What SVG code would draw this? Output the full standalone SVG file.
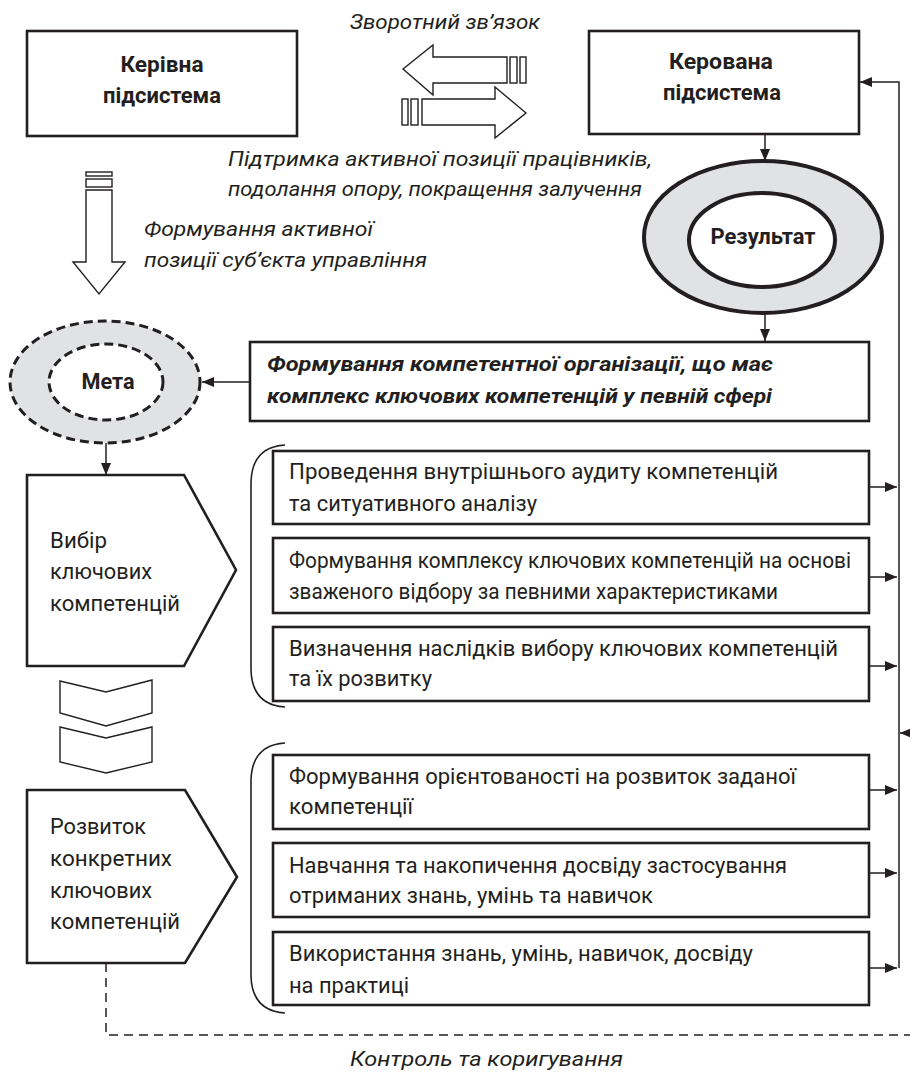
<svg xmlns="http://www.w3.org/2000/svg" width="910" height="1075" viewBox="0 0 910 1075">
<style>
text{font-family:Roboto,"Open Sans","Noto Sans","DejaVu Sans",sans-serif;fill:#231f20}
.b{font-weight:bold;font-size:22px}
.r{font-size:21.5px}
.i{font-style:italic;font-size:21px}
.bi{font-style:italic;font-weight:bold;font-size:21px}
.box{fill:#fff;stroke:#231f20;stroke-width:2.6}
.hol{fill:#fff;stroke:#231f20;stroke-width:1.4}
.ln{fill:none;stroke:#231f20;stroke-width:1.5}
.br{fill:none;stroke:#231f20;stroke-width:1.6}
</style>
<defs>
<marker id="ah" viewBox="0 0 12 10" refX="12" refY="5" markerWidth="12" markerHeight="10" markerUnits="userSpaceOnUse" orient="auto">
<path d="M0,0 L12,5 L0,10 z" fill="#231f20"/>
</marker>
</defs>

<g id="keriv">
<rect class="box" x="27" y="31" width="270" height="105"/>
<text class="b" x="162" y="72" text-anchor="middle" textLength="83" lengthAdjust="spacingAndGlyphs">Керівна</text>
<text class="b" x="162" y="103" text-anchor="middle" textLength="118" lengthAdjust="spacingAndGlyphs">підсистема</text>
</g>

<g id="kerov">
<rect class="box" x="589" y="31" width="270" height="103"/>
<text class="b" x="721" y="69" text-anchor="middle" textLength="104" lengthAdjust="spacingAndGlyphs">Керована</text>
<text class="b" x="722" y="100" text-anchor="middle" textLength="118" lengthAdjust="spacingAndGlyphs">підсистема</text>
</g>

<g id="feedback-arrows">
<path class="hol" d="M403,69 L433,45 L433,57 L507,57 L507,83 L433,83 L433,95 Z"/>
<rect class="hol" x="510" y="57" width="7" height="26"/>
<rect class="hol" x="520" y="57" width="6" height="26"/>
<path class="hol" d="M526,113 L495,87 L495,99 L422,99 L422,125 L495,125 L495,138 Z"/>
<rect class="hol" x="402" y="99" width="6" height="26"/>
<rect class="hol" x="411" y="99" width="7" height="26"/>
<text class="i" x="445" y="29" text-anchor="middle" textLength="190" lengthAdjust="spacingAndGlyphs">Зворотний зв’язок</text>
<text class="i" x="228" y="166" textLength="424" lengthAdjust="spacingAndGlyphs">Підтримка активної позиції працівників,</text>
<text class="i" x="228" y="196" textLength="414" lengthAdjust="spacingAndGlyphs">подолання опору, покращення залучення</text>
</g>

<g id="down-arrow">
<rect class="hol" x="86" y="172" width="26" height="4"/>
<rect class="hol" x="86" y="179" width="26" height="8"/>
<path class="hol" d="M86,190 L112,190 L112,262 L125,262 L99,294 L73,262 L86,262 Z"/>
<text class="i" x="144" y="236" textLength="229" lengthAdjust="spacingAndGlyphs">Формування активної</text>
<text class="i" x="144" y="267" textLength="283" lengthAdjust="spacingAndGlyphs">позиції суб’єкта управління</text>
</g>

<g id="rezultat">
<ellipse cx="763" cy="237" rx="119" ry="76" fill="#e1e2e4" stroke="#231f20" stroke-width="4"/>
<ellipse cx="762" cy="240" rx="73" ry="47" fill="#fff" stroke="#231f20" stroke-width="4"/>
<text class="b" x="763" y="244" text-anchor="middle" textLength="105" lengthAdjust="spacingAndGlyphs">Результат</text>
</g>

<g id="formuvannia">
<rect class="box" x="250" y="342" width="619" height="79"/>
<text class="bi" x="267" y="371" textLength="506" lengthAdjust="spacingAndGlyphs">Формування компетентної організації, що має</text>
<text class="bi" x="267" y="403" textLength="505" lengthAdjust="spacingAndGlyphs">комплекс ключових компетенцій у певній сфері</text>
</g>

<g id="meta">
<ellipse cx="105" cy="382" rx="95" ry="61" fill="#e1e2e4" stroke="#231f20" stroke-width="3" stroke-dasharray="9 5"/>
<ellipse cx="106" cy="382" rx="57" ry="38" fill="#fff" stroke="#231f20" stroke-width="3" stroke-dasharray="9 5"/>
<text class="b" x="108" y="389" text-anchor="middle" textLength="53" lengthAdjust="spacingAndGlyphs">Мета</text>
</g>

<g id="vybir">
<path class="box" d="M27,475 L184,475 L236,570 L184,666 L27,666 Z"/>
<text class="r" x="50" y="548" textLength="57" lengthAdjust="spacingAndGlyphs">Вибір</text>
<text class="r" x="50" y="579" textLength="102" lengthAdjust="spacingAndGlyphs">ключових</text>
<text class="r" x="50" y="611" textLength="130" lengthAdjust="spacingAndGlyphs">компетенцій</text>
</g>

<g id="chevrons">
<path class="hol" d="M60,681 L106,692 L152,680 L152,713 L106,726 L60,713 Z"/>
<path class="hol" d="M60,727 L106,738 L152,727 L152,762 L106,773 L60,762 Z"/>
</g>

<g id="rozvytok">
<path class="box" d="M27,790 L185,790 L237,877 L185,963 L27,963 Z"/>
<text class="r" x="50" y="834" textLength="96" lengthAdjust="spacingAndGlyphs">Розвиток</text>
<text class="r" x="50" y="866" textLength="122" lengthAdjust="spacingAndGlyphs">конкретних</text>
<text class="r" x="50" y="898" textLength="102" lengthAdjust="spacingAndGlyphs">ключових</text>
<text class="r" x="50" y="929" textLength="130" lengthAdjust="spacingAndGlyphs">компетенцій</text>
</g>

<g id="group1">
<path class="br" d="M285,445 Q252,447 251,482 L251,670 Q252,705 285,707"/>
<g id="b1">
<rect class="box" x="273" y="451" width="596" height="73"/>
<text class="r" x="289" y="479" textLength="489" lengthAdjust="spacingAndGlyphs">Проведення внутрішнього аудиту компетенцій</text>
<text class="r" x="289" y="511" textLength="248" lengthAdjust="spacingAndGlyphs">та ситуативного аналізу</text>
</g>
<g id="b2">
<rect class="box" x="273" y="538" width="596" height="75"/>
<text class="r" x="289" y="568" textLength="562" lengthAdjust="spacingAndGlyphs">Формування комплексу ключових компетенцій на основі</text>
<text class="r" x="289" y="599" textLength="489" lengthAdjust="spacingAndGlyphs">зваженого відбору за певними характеристиками</text>
</g>
<g id="b3">
<rect class="box" x="273" y="627" width="596" height="74"/>
<text class="r" x="289" y="656" textLength="549" lengthAdjust="spacingAndGlyphs">Визначення наслідків вибору ключових компетенцій</text>
<text class="r" x="289" y="686" textLength="143" lengthAdjust="spacingAndGlyphs">та їх розвитку</text>
</g>
</g>

<g id="group2">
<path class="br" d="M285,743 Q252,745 251,780 L251,976 Q252,1011 285,1013"/>
<g id="b4">
<rect class="box" x="273" y="755" width="596" height="74"/>
<text class="r" x="289" y="784" textLength="507" lengthAdjust="spacingAndGlyphs">Формування орієнтованості на розвиток заданої</text>
<text class="r" x="289" y="814" textLength="124" lengthAdjust="spacingAndGlyphs">компетенції</text>
</g>
<g id="b5">
<rect class="box" x="273" y="843" width="596" height="74"/>
<text class="r" x="289" y="873" textLength="498" lengthAdjust="spacingAndGlyphs">Навчання та накопичення досвіду застосування</text>
<text class="r" x="289" y="903" textLength="364" lengthAdjust="spacingAndGlyphs">отриманих знань, умінь та навичок</text>
</g>
<g id="b6">
<rect class="box" x="273" y="932" width="596" height="73"/>
<text class="r" x="289" y="961" textLength="464" lengthAdjust="spacingAndGlyphs">Використання знань, умінь, навичок, досвіду</text>
<text class="r" x="289" y="993" textLength="120" lengthAdjust="spacingAndGlyphs">на практиці</text>
</g>
</g>

<g id="connectors">
<line class="ln" x1="765" y1="134" x2="765" y2="161" marker-end="url(#ah)"/>
<line class="ln" x1="765" y1="313" x2="765" y2="341" marker-end="url(#ah)"/>
<line class="ln" x1="250" y1="382" x2="202" y2="382" marker-end="url(#ah)"/>
<line class="ln" x1="106" y1="443" x2="106" y2="475" marker-end="url(#ah)"/>
<path class="ln" d="M899,968 L899,82 L860,82" marker-end="url(#ah)"/>
<line class="ln" x1="869" y1="487" x2="897" y2="487" marker-end="url(#ah)"/>
<line class="ln" x1="869" y1="577" x2="897" y2="577" marker-end="url(#ah)"/>
<line class="ln" x1="869" y1="666" x2="897" y2="666" marker-end="url(#ah)"/>
<line class="ln" x1="869" y1="790" x2="897" y2="790" marker-end="url(#ah)"/>
<line class="ln" x1="869" y1="873" x2="897" y2="873" marker-end="url(#ah)"/>
<line class="ln" x1="869" y1="968" x2="897" y2="968" marker-end="url(#ah)"/>
<line class="ln" x1="912" y1="733" x2="900" y2="733" marker-end="url(#ah)"/>
<path class="ln" d="M106,963 L106,1035 L912,1035" stroke-dasharray="9 6"/>
<text class="i" x="350" y="1066" textLength="273" lengthAdjust="spacingAndGlyphs">Контроль та коригування</text>
</g>
</svg>
